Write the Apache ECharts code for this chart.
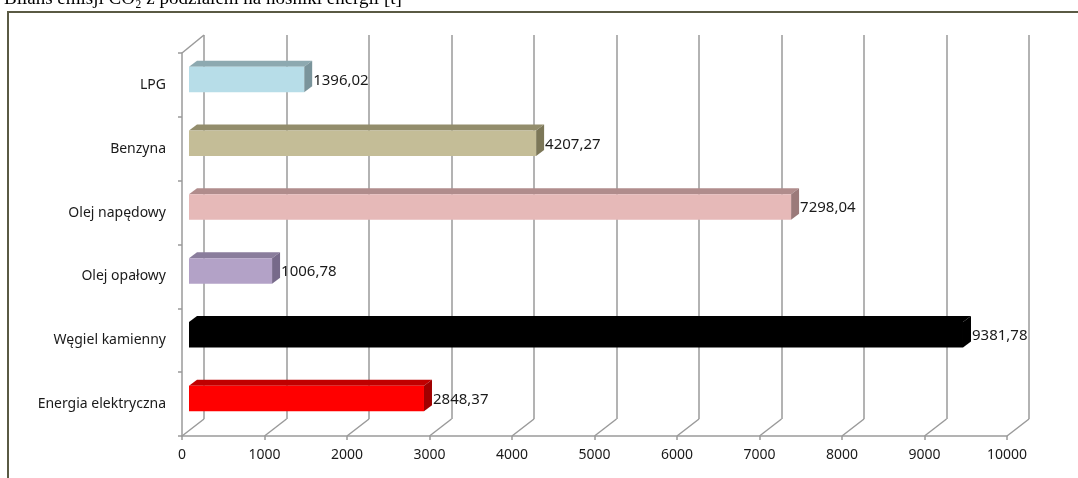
<!DOCTYPE html>
<html><head><meta charset="utf-8">
<script src="https://cdn.jsdelivr.net/npm/echarts@6/dist/echarts.min.js"></script>
<style>html,body{margin:0;padding:0;background:#fff;overflow:hidden}#c{width:1078px;height:478px;}</style>
</head><body><div id="c"></div>
<script>
const titleText = 'Bilans emisji CO\u2082 z podziałem na nośniki energii [t]';
const categories = ['LPG','Benzyna','Olej napędowy','Olej opałowy','Węgiel kamienny','Energia elektryczna'];
const values = [1396.02, 4207.27, 7298.04, 1006.78, 9381.78, 2848.37];
const valueLabels = ['1396,02','4207,27','7298,04','1006,78','9381,78','2848,37'];
const frontColors = ['#B7DDE8','#C4BD97','#E6B9B8','#B3A2C7','#000000','#FF0000'];
const topColors   = ['#8DA9B0','#938D6C','#B08C8C','#8A7D9C','#000000','#C00000'];
const sideColors  = ['#7A949B','#7C7758','#9B7A7A','#776A8A','#000000','#A00000'];
const tickValues = [0,1000,2000,3000,4000,5000,6000,7000,8000,9000,10000];

const DX = 22, DY = 17;      // back-plane depth
const BDX = 8, BDY = 6;      // bar depth
const GRID = '#9A9A9A';

const chart = echarts.init(document.getElementById('c'));
chart.setOption({
  animation: false,
  graphic: [
    {type:'rect', shape:{x:8, y:12, width:1200, height:600}, style:{fill:'none', stroke:'#5A5A44', lineWidth:2}, z:0},
    {type:'text', left:4, top:-10, style:{text:titleText, font:'19px "Liberation Serif"', fill:'#000'}}
  ],
  grid: [
    {left:182, right:71, top:53, bottom:42},
    {left:182+DX, right:71-DX, top:53-DY-1, bottom:42+DY}
  ],
  xAxis: [
    {type:'value', gridIndex:0, min:0, max:10000, interval:1000,
     axisLine:{show:true, lineStyle:{color:GRID, width:1.5}},
     axisTick:{show:true, length:4, lineStyle:{color:GRID, width:1.5}},
     axisLabel:{color:'#1a1a1a', fontFamily:'Noto Sans', fontSize:14, margin:12, formatter: v => String(v)},
     splitLine:{show:false}},
    {type:'value', gridIndex:1, min:0, max:10000, interval:1000,
     axisLine:{show:false}, axisTick:{show:false}, axisLabel:{show:false},
     splitLine:{show:true, lineStyle:{color:GRID, width:1.5}}}
  ],
  yAxis: [
    {type:'category', gridIndex:0, data:categories, inverse:true,
     axisLine:{show:true, lineStyle:{color:GRID, width:1.5}},
     axisTick:{show:true, length:4, lineStyle:{color:GRID, width:1.5}},
     axisLabel:{color:'#1a1a1a', fontFamily:'Noto Sans', fontSize:14, margin:16},
     splitLine:{show:false}},
    {type:'category', gridIndex:1, data:categories, inverse:true, show:false}
  ],
  series: [
    {type:'custom', xAxisIndex:0, yAxisIndex:0, z:1,
     data: tickValues.map(v => [v, 0]),
     renderItem(params, api) {
       const v = api.value(0);
       const cs = params.coordSys;
       const x = api.coord([v, 0])[0];
       const bottom = cs.y + cs.height;
       const children = [{type:'line', shape:{x1:x, y1:bottom, x2:x+DX, y2:bottom-DY},
                          style:{stroke:GRID, lineWidth:1.5}}];
       if (v === 0) {
         children.push({type:'line', shape:{x1:x, y1:cs.y, x2:x+DX, y2:cs.y-DY-1},
                        style:{stroke:GRID, lineWidth:1.5}});
       }
       return {type:'group', children};
     }},
    {type:'custom', xAxisIndex:0, yAxisIndex:0, z:5,
     data: values.map((v, i) => [v, i]),
     renderItem(params, api) {
       const v = api.value(0), i = api.value(1);
       const s = api.coord([0, i]), e = api.coord([v, i]);
       const band = api.size([0, 1])[1];
       const h = band * 0.40;
       const cy = s[1] - 5.5;
       const off = 7;
       const x0 = s[0] + off, x1 = e[0] + off, y0 = cy - h/2, y1 = cy + h/2;
       return {type:'group', children:[
         {type:'polygon', shape:{points:[[x0,y0],[x0+BDX,y0-BDY],[x1+BDX,y0-BDY],[x1,y0]]}, style:{fill:topColors[i]}},
         {type:'polygon', shape:{points:[[x1,y0],[x1+BDX,y0-BDY],[x1+BDX,y1-BDY],[x1,y1]]}, style:{fill:sideColors[i]}},
         {type:'rect', shape:{x:x0, y:y0, width:x1-x0, height:h}, style:{fill:frontColors[i]}},
         {type:'text', style:{text:valueLabels[i], x:x1+BDX+1, y:cy+1, align:'left', verticalAlign:'middle',
                              fill:'#1a1a1a', font:'15px "Noto Sans"'}}
       ]};
     }}
  ]
});
</script></body></html>
